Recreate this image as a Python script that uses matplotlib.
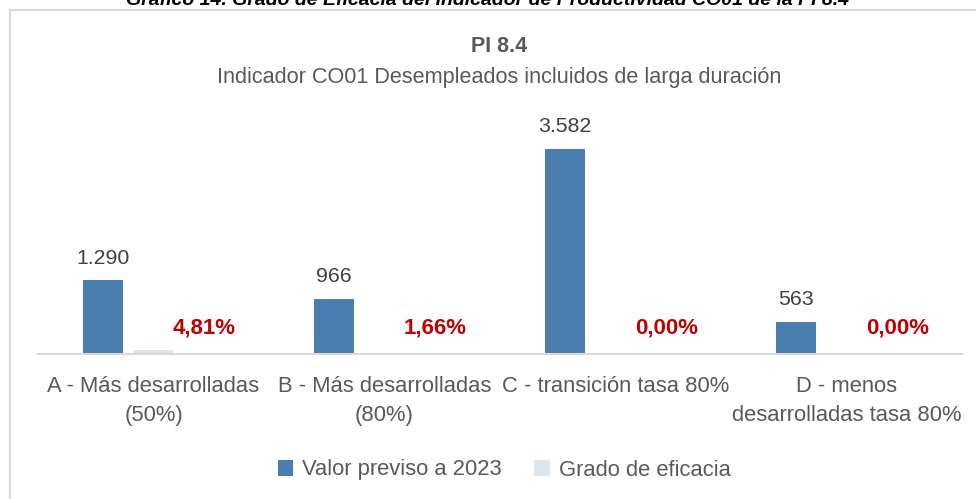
import numpy as np
import matplotlib.pyplot as plt
from matplotlib.patches import Rectangle
from matplotlib import font_manager

## Data
categories = ["A - Más desarrolladas\n(50%)", "B - Más desarrolladas\n(80%)",
              "C - transición tasa 80%", "D - menos\ndesarrolladas tasa 80%"]
valor_previsto = [1290, 966, 3582, 563]
valor_realizado = [62, 16, 0, 0]
grado_eficacia = ["4,81%", "1,66%", "0,00%", "0,00%"]
previsto_labels = ["1.290", "966", "3.582", "563"]

## Font: narrow look if available
names = {f.name for f in font_manager.fontManager.ttflist}
family = ["Liberation Sans Narrow"] if "Liberation Sans Narrow" in names else ["Liberation Sans"]
plt.rcParams["font.family"] = family + ["DejaVu Sans"]

grey = "#595959"
blue = "#4A7EAF"
pale = "#DCE3F1"
red = "#C00000"

fig = plt.figure(figsize=(9.76, 4.99), dpi=100)
ax = fig.add_axes([38/976, 1 - 354/499, 924/976, 229/499])

x = np.arange(len(categories))
w = 0.173
off = 0.22
ax.bar(x - off, valor_previsto, width=w, color=blue, label="Valor previso a 2023")
ax.bar(x, valor_realizado, width=w, color=pale, label="Grado de eficacia")

for xi, v, lab in zip(x, valor_previsto, previsto_labels):
    ax.annotate(lab, (xi - off, v), xytext=(0, 9), textcoords="offset points",
                ha="center", va="bottom", fontsize=15.3, color="#404040")
for xi, lab in zip(x, grado_eficacia):
    ax.annotate(lab, (xi + off, 0), xytext=(0, 19), textcoords="offset points",
                ha="center", va="center", fontsize=16, color=red, fontweight="bold")

ax.set_xlim(-0.5, len(categories) - 0.5)
ax.set_ylim(0, 4000)
ax.set_xticks(x)
ax.set_xticklabels(categories, fontsize=15.8, color=grey, linespacing=1.5)
ax.tick_params(axis="x", length=0, pad=16)
ax.set_yticks([])
for s in ["top", "right", "left"]:
    ax.spines[s].set_visible(False)
ax.spines["bottom"].set_color("#D9D9D9")
ax.spines["bottom"].set_linewidth(1.5)
ax.patch.set_alpha(0)

ax.legend(loc="center", ncol=2, frameon=False, fontsize=15.8, labelcolor=grey,
          handlelength=0.7, handleheight=0.7, handletextpad=0.4, columnspacing=1.5)
leg = ax.get_legend()
leg.set_bbox_to_anchor((504/976, 1 - 470/499), transform=fig.transFigure)

## Titles
fig.text(499/976, 1 - 47/499, "PI 8.4", ha="center", va="center", fontsize=15.5,
         fontweight="bold", color=grey)
fig.text(499/976, 1 - 77/499, "Indicador CO01 Desempleados incluidos de larga duración",
         ha="center", va="center", fontsize=15.6, color=grey)
fig.text(0.5, 1 - 9/499, "Gráfico 14. Grado de Eficacia del Indicador de Productividad CO01 de la PI 8.4",
         ha="center", va="bottom", fontsize=14, fontweight="bold", style="italic", color="black")

## Chart border
fig.patches.append(Rectangle((10/976, -0.05), 1.0, 1 - 10/499 + 0.05, transform=fig.transFigure,
                             fill=False, edgecolor="#D9D9D9", linewidth=1.5))

fig.savefig("out.png", dpi=100)
